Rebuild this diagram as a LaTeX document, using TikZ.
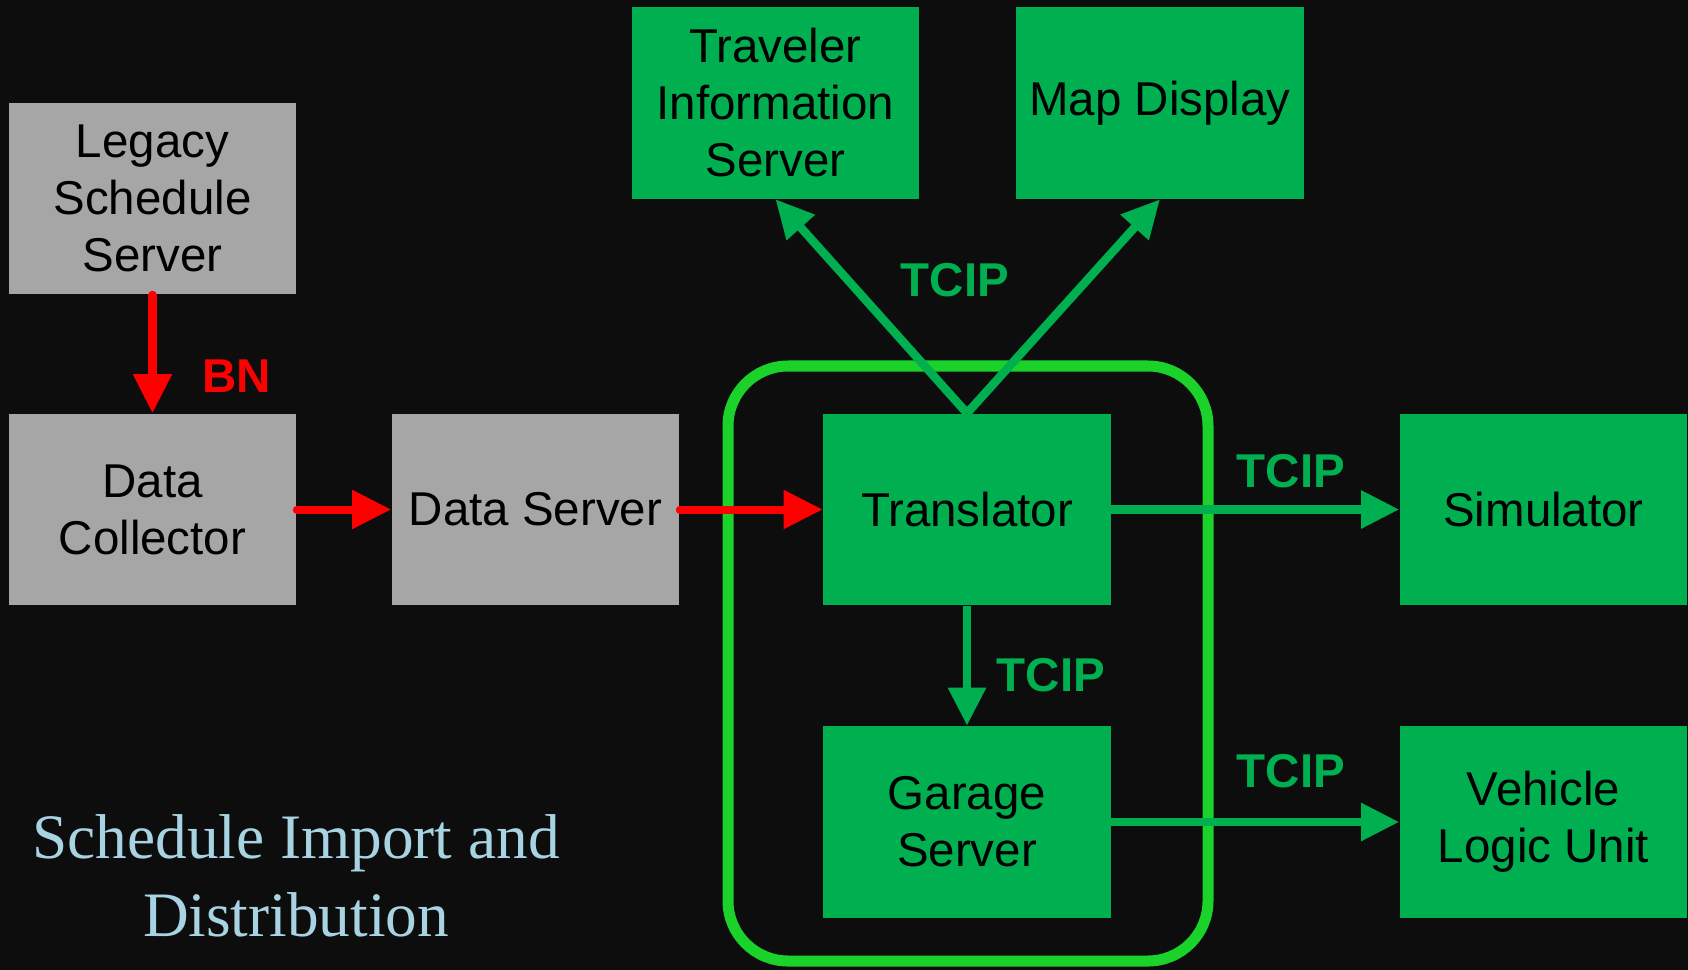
\documentclass[tikz,border=0pt]{standalone}
\usepackage{tikz}
\usetikzlibrary{arrows.meta}
\usepackage{xcolor}
\usepackage{fontspec}
\setmainfont{Liberation Sans}
\newfontfamily\titlefont{Liberation Serif}
\definecolor{slidebg}{HTML}{0D0D0D}
\definecolor{boxgreen}{HTML}{00B050}
\definecolor{boxgray}{HTML}{A6A6A6}
\definecolor{framegreen}{HTML}{1AD22A}
\definecolor{titleblue}{HTML}{A8D3E3}
\tikzstyle{block}=[rectangle,minimum width=2.87cm,minimum height=1.91cm,inner sep=0pt,align=center,font=\fontsize{13.5}{16.2}\selectfont]
\tikzstyle{legacy block} = [block, fill=boxgray]
\tikzstyle{tcip block} = [block, fill=boxgreen]
\tikzstyle{bn link} = [draw,line width=0.08cm,red,line cap=round,-{Triangle[length=0.39cm,width=0.37cm]}]
\tikzstyle{tcip link} = [draw,line width=0.085cm,boxgreen,-{Triangle[length=0.38cm,width=0.36cm]}]
\tikzstyle{group frame} = [draw,line width=0.11cm,framegreen,rounded corners=0.6cm]
\tikzstyle{proto label} = [font=\fontsize{13.5}{16}\selectfont\bfseries]

\begin{document}
\begin{tikzpicture}[x=0.01cm, y=-0.01cm]
    % Background
    \fill[slidebg] (0,0) rectangle (1688,970);
    \useasboundingbox (0,0) rectangle (1688,970);

    % Grey nodes
    \foreach \pos/\name/\txt in {{(152.5,198.5)/legacy/{Legacy\\Schedule\\Server}},
                                 {(152.5,509.5)/coll/{Data\\Collector}},
                                 {(535.5,509.5)/dserv/{Data Server}}}
        \node[legacy block] (\name) at \pos {\txt};

    % Green nodes
    \foreach \pos/\name/\txt in {{(967,509.5)/trans/{Translator}}, {(967,822)/garage/{Garage\\Server}},
                                 {(1543.5,509.5)/sim/{Simulator}}, {(1543.5,822)/vlu/{Vehicle\\Logic Unit}},
                                 {(775.5,103)/tis/{Traveler\\Information\\Server}}, {(1160,103)/map/{Map Display}}}
        \node[tcip block] (\name) at \pos {\txt};

    % Frame round translator and garage server
    \path[group frame] (728,366) rectangle (1208,961);

    % Red links
    \path[bn link] (legacy.south) -- (coll.north);
    \foreach \source/\dest in {coll/dserv, dserv/trans}
        \path[bn link] (\source.east) -- (\dest.west);

    % Green links
    \foreach \dest in {tis, map}
        \path[tcip link] (trans.north) -- (\dest.south);
    \path[tcip link] (trans.south) -- (garage.north);
    \foreach \source/\dest in {trans/sim, garage/vlu}
        \path[tcip link] (\source.east) -- (\dest.west);

    % Labels
    \node[proto label, red] (bn) at (237,376) {BN};
    \foreach \pos/\name in {{(955,280)/tcip_up}, {(1291,471)/tcip_sim},
                            {(1051,675)/tcip_down}, {(1291,771)/tcip_vlu}}
        \node[proto label, boxgreen] (\name) at \pos {TCIP};

    % Title
    \node[align=center, titleblue, font=\titlefont\fontsize{18}{22}\selectfont] (title) at (296,876) {Schedule Import and\\Distribution};
\end{tikzpicture}
\end{document}
